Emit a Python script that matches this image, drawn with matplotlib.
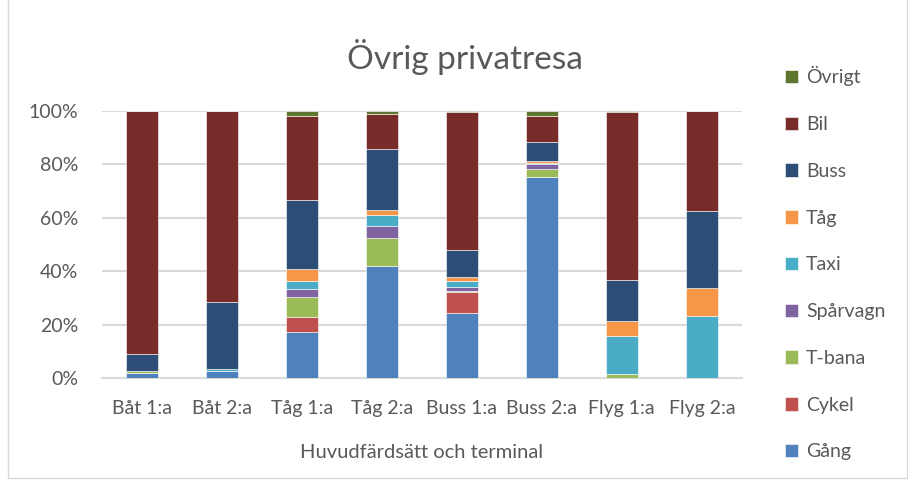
import matplotlib
matplotlib.use("Agg")
import matplotlib.pyplot as plt
import numpy as np

plt.rcParams['font.family'] = ['Lato', 'DejaVu Sans']

# Data (share of trips, %)
categories = ["Båt 1:a", "Båt 2:a", "Tåg 1:a", "Tåg 2:a", "Buss 1:a", "Buss 2:a", "Flyg 1:a", "Flyg 2:a"]
series_names = ["Gång", "Cykel", "T-bana", "Spårvagn", "Taxi", "Tåg", "Buss", "Bil", "Övrigt"]

gang     = [2.0, 2.5, 17.2, 41.7, 24.3, 75.2, 0.0, 0.0]
cykel    = [0.0, 0.0, 5.7, 0.0, 7.7, 0.0, 0.0, 0.0]
tbana    = [0.6, 0.0, 7.5, 10.6, 0.5, 2.9, 1.5, 0.0]
sparvagn = [0.0, 0.0, 3.0, 4.6, 1.7, 2.1, 0.0, 0.0]
taxi     = [0.2, 1.0, 3.0, 3.9, 2.2, 0.3, 14.3, 23.0]
tag      = [0.0, 0.0, 4.3, 2.0, 1.5, 0.8, 5.5, 10.5]
buss     = [6.2, 25.0, 25.8, 22.8, 10.0, 7.1, 15.2, 28.9]
bil      = [91.0, 71.5, 31.6, 13.0, 51.7, 9.4, 62.8, 37.6]
ovrigt   = [0.0, 0.0, 1.9, 1.4, 0.4, 2.2, 0.7, 0.0]

colors = ["#4F81BD", "#C0504D", "#9BBB59", "#8064A2", "#4BACC6",
          "#F79646", "#2C4D75", "#772C2A", "#5F7530"]

values = [gang, cykel, tbana, sparvagn, taxi, tag, buss, bil, ovrigt]

fig = plt.figure(figsize=(9.08, 4.88), dpi=100)
ax = fig.add_axes([0.112, 0.2254, 0.705, 0.548])

x = np.arange(len(categories))
bottom = np.zeros(len(categories))
handles = []
for name, vals, col in zip(series_names, values, colors):
    v = np.array(vals) / 100.0
    b = ax.bar(x, v, width=0.4, bottom=bottom, color=col, label=name,
               edgecolor="white", linewidth=0.4, zorder=3)
    handles.append(b)
    bottom += v

ax.set_xlim(-0.5, len(categories) - 0.5)
ax.set_ylim(0, 1.0)
ax.set_yticks([0, 0.2, 0.4, 0.6, 0.8, 1.0])
ax.set_yticklabels(["0%", "20%", "40%", "60%", "80%", "100%"])
ax.set_xticks(x)
ax.set_xticklabels(categories)
ax.tick_params(axis="both", length=0, labelsize=14, colors="#595959")
ax.tick_params(axis="x", pad=16)
ax.tick_params(axis="y", pad=17)
ax.grid(axis="y", color="#D9D9D9", linewidth=1.5, zorder=0)
for s in ax.spines.values():
    s.set_visible(False)
ax.spines["bottom"].set_visible(True)
ax.spines["bottom"].set_color("#D9D9D9")
ax.spines["bottom"].set_linewidth(1.5)

ax.set_xlabel("Huvudfärdsätt och terminal", fontsize=14.5, color="#595959", labelpad=19)
fig.text(0.512, 0.883, "Övrig privatresa", fontsize=24, color="#595959",
         ha="center", va="center")

leg = fig.legend(handles[::-1], series_names[::-1], loc="upper left",
                 bbox_to_anchor=(0.845, 0.9), frameon=False, fontsize=14,
                 handlelength=0.7, handleheight=0.7, handletextpad=0.4,
                 labelspacing=1.53)
for t in leg.get_texts():
    t.set_color("#595959")

# chart area border
fig.patches.append(plt.Rectangle((0.009, 0.02), 0.99, 0.99, transform=fig.transFigure,
                                 fill=False, edgecolor="#D9D9D9", linewidth=1))

fig.savefig("out.png", dpi=100)
